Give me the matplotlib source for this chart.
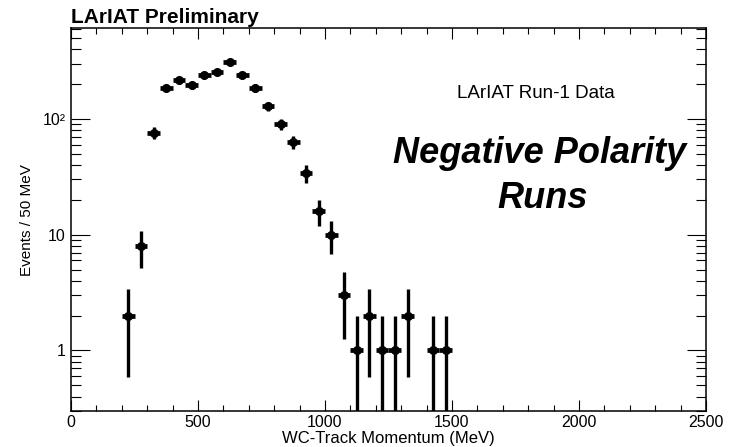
import numpy as np
import matplotlib.pyplot as plt
from matplotlib.ticker import MultipleLocator, FixedLocator, FixedFormatter, LogLocator, NullFormatter

plt.rcParams['font.family'] = ['Liberation Sans', 'DejaVu Sans']

# WC-track momentum histogram, 50 MeV bins (bin centres in MeV)
bin_centers = [225, 275, 325, 375, 425, 475, 525, 575, 625, 675, 725, 775, 825,
               875, 925, 975, 1025, 1075, 1125, 1175, 1225, 1275, 1325, 1425, 1475]
counts = [2, 8, 76, 185, 217, 196, 239, 254, 310, 239, 185, 129, 90,
          63, 34, 16, 10, 3, 1, 2, 1, 1, 2, 1, 1]
bin_half_width = 25

y_ticks = [1, 10, 100]
y_tick_labels = ['1', '10', '10\u00b2']

W, H = 733, 447
fig = plt.figure(figsize=(W / 100, H / 100), dpi=100)
ax = fig.add_axes([71 / W, 1 - 411 / H, (706 - 71) / W, (411 - 28) / H])

x = np.array(bin_centers, dtype=float)
n = np.array(counts, dtype=float)
err_up = np.sqrt(n)
err_lo = np.minimum(err_up, n - 0.01)  # keep lower end positive on log axis

# horizontal bin bars drawn a bit thicker than the vertical error bars
ax.errorbar(x, n, xerr=bin_half_width, fmt='none', color='black',
            elinewidth=3.4, capsize=0)
ax.errorbar(x, n, yerr=[err_lo, err_up], fmt='o', color='black', ms=5.5,
            elinewidth=2.4, capsize=0)

ax.set_yscale('log')
ax.set_xlim(0, 2500)
ax.set_ylim(0.3, 610)

ax.xaxis.set_major_locator(MultipleLocator(500))
ax.xaxis.set_minor_locator(MultipleLocator(100))
ax.yaxis.set_major_locator(FixedLocator(y_ticks))
ax.yaxis.set_major_formatter(FixedFormatter(y_tick_labels))
ax.yaxis.set_minor_locator(LogLocator(base=10, subs=np.arange(2, 10)))
ax.yaxis.set_minor_formatter(NullFormatter())

ax.tick_params(axis='both', which='both', direction='in', top=True, right=True,
               colors='black', width=0.8, labelsize=11.5)
ax.tick_params(axis='x', which='major', length=8, pad=3)
ax.tick_params(axis='x', which='minor', length=4.3)
ax.tick_params(axis='y', which='major', length=14, pad=4)
ax.tick_params(axis='y', which='minor', length=7)
for s in ax.spines.values():
    s.set_linewidth(1.1)

# text placed in pixel coordinates of the figure
def px(xp, yp):
    return xp / W, 1 - yp / H

fig.text(*px(71, 23), 'LArIAT Preliminary', fontsize=15, fontweight='bold',
         ha='left', va='baseline')
fig.text(*px(457, 98), 'LArIAT Run-1 Data', fontsize=13.5, ha='left', va='baseline')
fig.text(*px(540, 163), 'Negative Polarity', fontsize=26, fontweight='bold',
         fontstyle='italic', ha='center', va='baseline')
fig.text(*px(543, 208), 'Runs', fontsize=26, fontweight='bold',
         fontstyle='italic', ha='center', va='baseline')
fig.text(*px(388, 443), 'WC-Track Momentum (MeV)', fontsize=12, ha='center', va='baseline')
fig.text(*px(27, 220), 'Events / 50 MeV', fontsize=11, rotation=90,
         ha='center', va='center')

fig.savefig('out.png', dpi=100)
